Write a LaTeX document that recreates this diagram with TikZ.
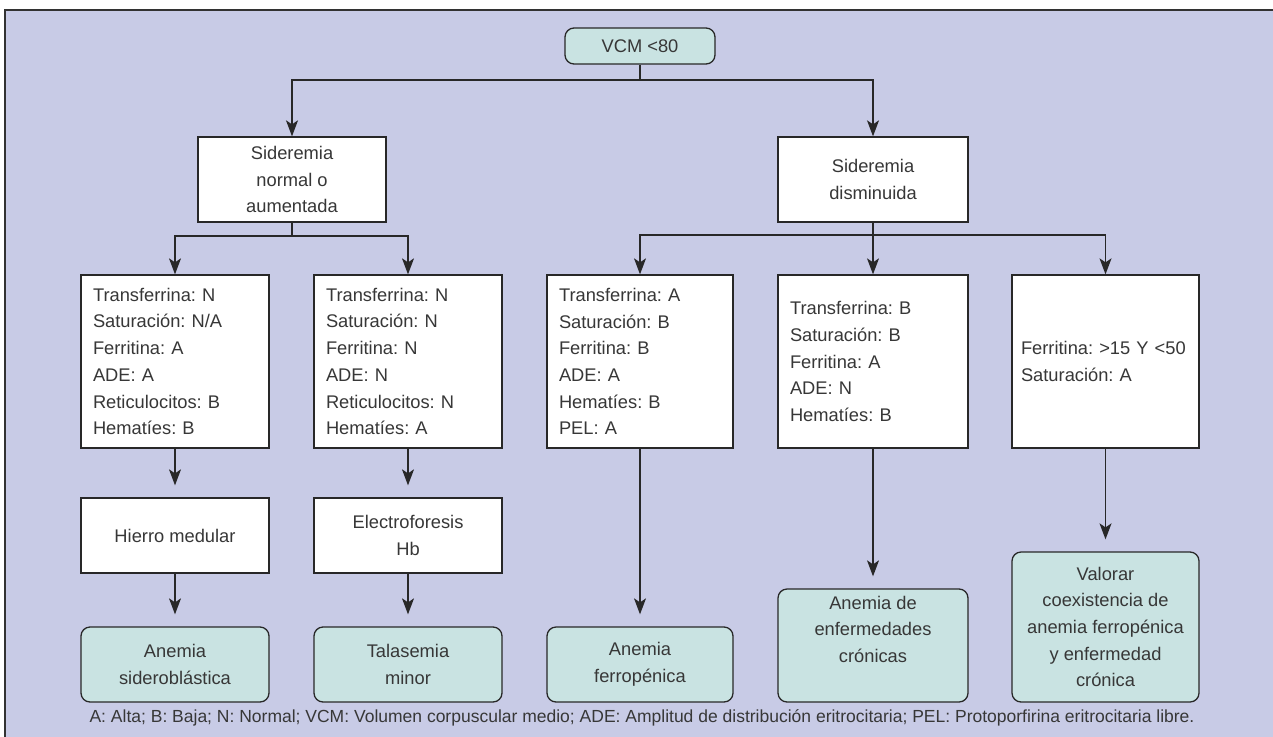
\documentclass[tikz,border=0pt]{standalone}
\usepackage{fontspec}
\setmainfont{Liberation Sans}
\usetikzlibrary{arrows.meta}
\definecolor{bgc}{RGB}{200,203,230}
\definecolor{tealc}{RGB}{201,227,226}
\definecolor{linec}{RGB}{40,40,40}
\definecolor{txtc}{RGB}{55,55,55}
\definecolor{framec}{RGB}{50,50,50}
\newcommand\mainfs{\frenchspacing\fontsize{18.3}{26.7}\selectfont}
\newcommand\footfs{\frenchspacing\fontsize{17.5}{20}\selectfont}
\begin{document}
\begin{tikzpicture}[x=1pt,y=-1pt,
  base/.style={draw=linec, line width=1.3pt, text=txtc, font=\mainfs, inner sep=0pt, align=center},
  wbox/.style={base, fill=white},
  lbox/.style={base, fill=white, align=left, text width=164pt, inner xsep=12pt, minimum height=173pt},
  gbox/.style={base, fill=tealc, rounded corners=9pt},
  conn/.style={draw=linec, line width=1.3pt},
  arr/.style={conn, -{Stealth[length=16pt,width=12pt,inset=4pt]}},
  garr/.style={arr, shorten >=12pt}]
\clip (0,0) rectangle (1273,736);
\fill[bgc] (5,10) rectangle (1290,750);
\draw[framec, line width=2pt] (1290,10) -- (5,10) -- (5,750);

\node[gbox, minimum width=150pt, minimum height=36pt] (top) at (640,46) {VCM <80};

\node[wbox, minimum width=188pt, minimum height=85pt] (sn) at (292,179.5) {Sideremia\\normal o\\aumentada};
\node[wbox, minimum width=190pt, minimum height=85pt] (sd) at (873,179.5) {Sideremia\\disminuida};

\node[lbox] (b1) at (175,361.5) {Transferrina: N\\Saturación: N/A\\Ferritina: A\\ADE: A\\Reticulocitos: B\\Hematíes: B};
\node[lbox] (b2) at (408,361.5) {Transferrina: N\\Saturación: N\\Ferritina: N\\ADE: N\\Reticulocitos: N\\Hematíes: A};
\node[lbox, text width=162pt] (b3) at (640,361.5) {Transferrina: A\\Saturación: B\\Ferritina: B\\ADE: A\\Hematíes: B\\PEL: A};
\node[lbox, text width=166pt] (b4) at (873,361.5) {Transferrina: B\\Saturación: B\\Ferritina: A\\ADE: N\\Hematíes: B};
\node[lbox, text width=169pt, inner xsep=9pt] (b5) at (1105.5,361.5) {Ferritina: >15 Y <50\\Saturación: A};

\node[wbox, minimum width=188pt, minimum height=75pt] (hm) at (175,535.5) {Hierro medular};
\node[wbox, minimum width=188pt, minimum height=75pt] (ef) at (408,535.5) {Electroforesis\\Hb};

\node[gbox, minimum width=188pt, minimum height=75pt] (l1) at (175,664.5) {Anemia\\sideroblástica};
\node[gbox, minimum width=188pt, minimum height=75pt] (l2) at (408,664.5) {Talasemia\\minor};
\node[gbox, minimum width=186pt, minimum height=75pt] (l3) at (640,664.5) {Anemia\\ferropénica};
\node[gbox, minimum width=190pt, minimum height=113pt] (l4) at (873,645.5) {Anemia de\\enfermedades\\crónicas\\[6pt]};
\node[gbox, minimum width=187pt, minimum height=150pt] (l5) at (1105.5,627) {Valorar\\coexistencia de\\anemia ferropénica\\y enfermedad\\crónica};

\coordinate (j0) at (640,80);
\coordinate (j1) at (292,236);
\coordinate (j2) at (873,235);

\draw[conn] (top.south) -- (j0);
\draw[arr] (j0) -| (sn.north);
\draw[arr] (j0) -| (sd.north);

\draw[conn] (sn.south) -- (j1);
\draw[arr] (j1) -| (b1.north);
\draw[arr] (j1) -| (b2.north);

\draw[arr] (sd.south) -- (b4.north);
\draw[arr] (j2) -| (b3.north);
\draw[arr] (j2) -| (b5.north);

\draw[garr] (b1.south) -- (hm.north);
\draw[garr] (b2.south) -- (ef.north);
\draw[garr] (hm.south) -- (l1.north);
\draw[garr] (ef.south) -- (l2.north);
\draw[garr] (b3.south) -- (l3.north);
\draw[garr] (b4.south) -- (l4.north);
\draw[garr] (b5.south) -- (l5.north);

\node[font=\footfs, text=txtc, inner sep=0pt] (foot) at (642,718) {A: Alta; B: Baja; N: Normal; VCM: Volumen corpuscular medio; ADE: Amplitud de distribución eritrocitaria; PEL: Protoporfirina eritrocitaria libre.};
\end{tikzpicture}
\end{document}
